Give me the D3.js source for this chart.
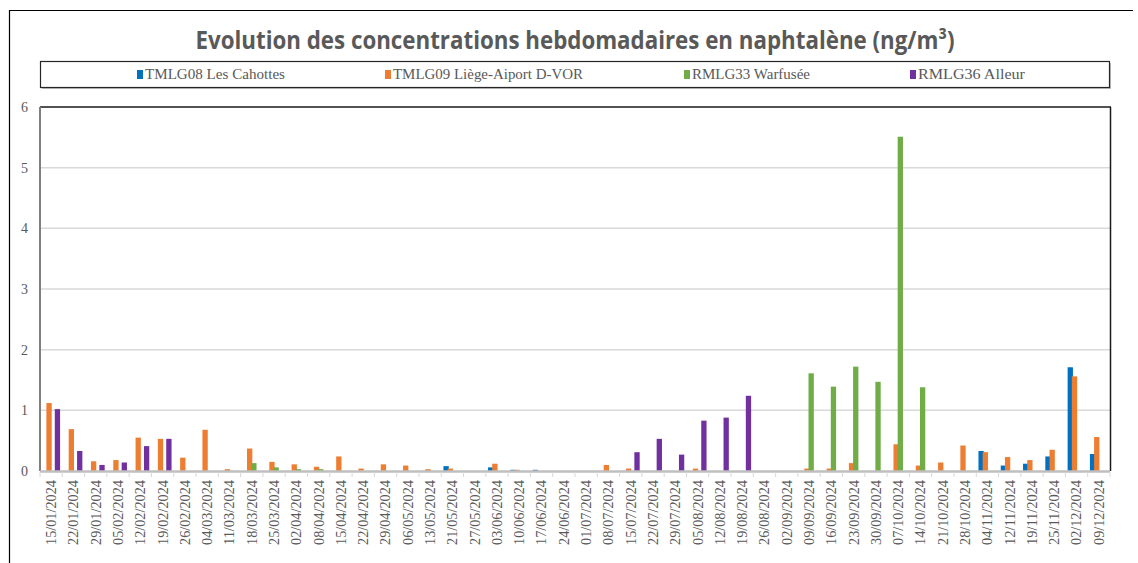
<!DOCTYPE html>
<html>
<head>
<meta charset="utf-8">
<script src="https://cdn.jsdelivr.net/npm/d3@7"></script>
<style>
  html, body { margin: 0; padding: 0; background: #fff; }
  svg { display: block; }
  .serif { font-family: "Liberation Serif", "Tinos", "Times New Roman", "DejaVu Serif", serif; }
</style>
</head>
<body>
<svg id="chart" width="1138" height="563"></svg>
<script>
// Weekly sampling dates (Monday of each week)
const weeks = [
  "15/01/2024","22/01/2024","29/01/2024","05/02/2024","12/02/2024","19/02/2024","26/02/2024","04/03/2024",
  "11/03/2024","18/03/2024","25/03/2024","02/04/2024","08/04/2024","15/04/2024","22/04/2024","29/04/2024",
  "06/05/2024","13/05/2024","21/05/2024","27/05/2024","03/06/2024","10/06/2024","17/06/2024","24/06/2024",
  "01/07/2024","08/07/2024","15/07/2024","22/07/2024","29/07/2024","05/08/2024","12/08/2024","19/08/2024",
  "26/08/2024","02/09/2024","09/09/2024","16/09/2024","23/09/2024","30/09/2024","07/10/2024","14/10/2024",
  "21/10/2024","28/10/2024","04/11/2024","12/11/2024","19/11/2024","25/11/2024","02/12/2024","09/12/2024"
];

// Naphthalene weekly concentrations (ng/m³) per station
const cahottes = [0,0,0,0,0,0,0,0,0,0, 0,0,0,0,0,0,0,0,0.08,0, 0.06,0.02,0.02,0,0,0,0,0,0,0, 0,0,0,0,0,0,0,0,0,0, 0,0,0.33,0.09,0.12,0.24,1.71,0.28];
const liegeAirport = [1.12,0.69,0.16,0.18,0.55,0.53,0.22,0.68,0.03,0.37, 0.15,0.11,0.07,0.24,0.04,0.11,0.09,0.03,0.04,0, 0.12,0.02,0,0,0,0.10,0.04,0,0,0.04, 0,0,0,0,0.04,0.04,0.13,0,0.44,0.09, 0.14,0.42,0.31,0.23,0.18,0.35,1.56,0.56];
const warfusee = [0,0,0,0,0,0,0,0,0,0.13, 0.06,0.03,0.03,0,0,0,0,0,0,0, 0,0,0,0,0,0,0,0,0,0, 0,0,0,0,1.61,1.39,1.72,1.47,5.51,1.38, 0,0,0,0,0,0,0,0];
const alleur = [1.02,0.33,0.10,0.14,0.41,0.53,0,0,0,0, 0,0,0,0,0,0,0,0,0,0, 0,0,0,0,0,0,0.31,0.53,0.27,0.83, 0.88,1.24,0,0,0,0,0,0,0,0, 0,0,0,0,0,0,0,0];

const seriesNames = ["TMLG08 Les Cahottes", "TMLG09 Liège-Aiport D-VOR", "RMLG33 Warfusée", "RMLG36 Alleur"];
const seriesColors = ["#0070C0", "#ED7D31", "#70AD47", "#7030A0"];
const seriesValues = [cahottes, liegeAirport, warfusee, alleur];
const yTicks = [0, 1, 2, 3, 4, 5, 6];

const svg = d3.select("#chart");
const textGrey = "#595959";

// Outer chart frame (left and top edges)
svg.append("path")
  .attr("d", "M9.5,563 V10.5 H1133")
  .attr("fill", "none").attr("stroke", "#000").attr("stroke-width", 1.2);

// Title
svg.append("text")
  .attr("x", 575).attr("y", 49)
  .attr("text-anchor", "middle")
  .attr("font-family", "'Liberation Sans Narrow', 'Open Sans', sans-serif")
  .attr("font-weight", "bold")
  .attr("font-size", 25)
  .attr("fill", textGrey)
  .attr("textLength", 759).attr("lengthAdjust", "spacingAndGlyphs")
  .text("Evolution des concentrations hebdomadaires en naphtalène (ng/m³)");

// Legend box with a soft shadow on the bottom/right
svg.append("rect").attr("x", 42).attr("y", 63).attr("width", 1069).attr("height", 26)
  .attr("fill", "#bfbfbf");
svg.append("rect").attr("x", 40.5).attr("y", 61.5).attr("width", 1069).attr("height", 26)
  .attr("fill", "#fff").attr("stroke", "#262626").attr("stroke-width", 1.2);

const legendX = [137, 385, 684, 910];
const legendW = [140, 190, 118, 107];
const legend = svg.append("g").selectAll("g").data(seriesNames).join("g")
  .attr("transform", (d, i) => `translate(${legendX[i]},0)`);
legend.append("rect").attr("x", 0).attr("y", 70).attr("width", 6).attr("height", 9)
  .attr("fill", (d, i) => seriesColors[i]);
legend.append("text").attr("class", "serif").attr("x", 8).attr("y", 79)
  .attr("font-size", 15).attr("fill", textGrey)
  .attr("textLength", (d, i) => legendW[i]).attr("lengthAdjust", "spacingAndGlyphs")
  .text(d => d);

// Plot area scales
const plot = { left: 40, right: 1110, top: 107, bottom: 471 };
const x = d3.scaleBand().domain(weeks).range([plot.left, plot.right]).paddingInner(0).paddingOuter(0);
const y = d3.scaleLinear().domain([0, 6]).range([plot.bottom, plot.top]);

// Clustered, slightly overlapping bars inside each week band
const bw = x.bandwidth();
const barW = bw * 0.238;
const step = bw * 0.188;
const clusterW = barW + step * 3;
const seriesX = d3.scaleLinear().domain([0, 3]).range([(bw - clusterW) / 2, (bw - clusterW) / 2 + step * 3]);

// Horizontal gridlines
svg.append("g").selectAll("line").data(yTicks.filter(t => t > 0 && t < 6)).join("line")
  .attr("x1", plot.left).attr("x2", plot.right)
  .attr("y1", d => y(d)).attr("y2", d => y(d))
  .attr("stroke", "#d9d9d9").attr("stroke-width", 1.5);

// Y axis labels
const yAxis = d3.axisLeft(y).tickValues(yTicks).tickSize(0).tickPadding(12).tickFormat(d3.format("d"));
const yg = svg.append("g").attr("transform", `translate(${plot.left},0)`).call(yAxis);
yg.select(".domain").remove();
yg.selectAll("text")
  .attr("class", "serif").attr("font-family", null)
  .attr("font-size", 14).attr("fill", textGrey);

// Bars
seriesValues.forEach((vals, si) => {
  svg.append("g").selectAll("rect").data(vals.map((v, i) => ({ w: weeks[i], v })).filter(d => d.v > 0)).join("rect")
    .attr("x", d => x(d.w) + seriesX(si))
    .attr("width", barW)
    .attr("y", d => y(d.v))
    .attr("height", d => y(0) - y(d.v))
    .attr("fill", seriesColors[si]);
});

// Plot area border: top and right in dark, left axis in grey
svg.append("line").attr("x1", plot.left).attr("x2", plot.right + 1).attr("y1", plot.top).attr("y2", plot.top)
  .attr("stroke", "#1a1a1a").attr("stroke-width", 1.5);
svg.append("line").attr("x1", plot.right + 0.5).attr("x2", plot.right + 0.5).attr("y1", plot.top).attr("y2", plot.bottom)
  .attr("stroke", "#1a1a1a").attr("stroke-width", 1.5);
svg.append("line").attr("x1", plot.left).attr("x2", plot.left).attr("y1", plot.top).attr("y2", plot.bottom)
  .attr("stroke", "#7f7f7f").attr("stroke-width", 2);

// X axis with tick marks at week boundaries and rotated date labels
const xg = svg.append("g").attr("transform", `translate(0,${plot.bottom})`)
  .call(d3.axisBottom(x).tickSize(0).tickPadding(0));
xg.select(".domain").remove();
xg.attr("font-family", null);
svg.append("line").attr("x1", plot.left).attr("x2", plot.right).attr("y1", plot.bottom + 0.5).attr("y2", plot.bottom + 0.5)
  .attr("stroke", "#bfbfbf").attr("stroke-width", 2.5);
svg.append("g").selectAll("line").data(weeks.concat(["end"])).join("line")
  .attr("x1", (d, i) => plot.left + i * bw).attr("x2", (d, i) => plot.left + i * bw)
  .attr("y1", plot.bottom + 1).attr("y2", plot.bottom + 6)
  .attr("stroke", "#d9d9d9").attr("stroke-width", 1);
xg.selectAll(".tick text")
  .attr("class", "serif")
  .attr("transform", "rotate(-90)")
  .attr("text-anchor", "end")
  .attr("x", -9).attr("y", 0).attr("dy", "0.35em")
  .attr("font-size", 14).attr("fill", textGrey)
  .attr("textLength", 65).attr("lengthAdjust", "spacingAndGlyphs");
yg.attr("font-family", null);
</script>
</body>
</html>
